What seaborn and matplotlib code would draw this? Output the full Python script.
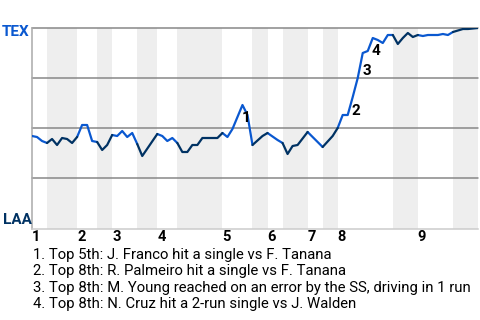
import bisect
import matplotlib
matplotlib.use("Agg")
import matplotlib.pyplot as plt
import numpy as np
import pandas as pd
import seaborn as sns

# ---- data ----
plays = [0, 1, 2, 3, 4, 5, 6, 7, 8, 9, 10, 11, 12, 13, 14, 15, 16, 17, 18, 19,
         20, 21, 22, 25, 26, 27, 28, 29, 30, 31, 32, 33, 34, 37, 38, 39, 40,
         42, 43, 44, 46, 47, 49, 50, 51, 52, 53, 55, 57, 58, 60, 61, 62, 63,
         64, 65, 66, 67, 68, 69, 70, 71, 72, 73, 74, 75, 76, 77, 78, 79, 81,
         82, 83, 84, 86, 87, 89]
tex_wp = [0.46, 0.455, 0.435, 0.425, 0.445, 0.415, 0.45, 0.445, 0.425, 0.455,
          0.515, 0.515, 0.435, 0.43, 0.39, 0.415, 0.465, 0.46, 0.485, 0.455,
          0.475, 0.42, 0.36, 0.47, 0.46, 0.435, 0.45, 0.425, 0.38, 0.38, 0.415,
          0.415, 0.45, 0.45, 0.475, 0.455, 0.495, 0.615, 0.565, 0.415, 0.46,
          0.475, 0.44, 0.425, 0.37, 0.41, 0.415, 0.48, 0.43, 0.405, 0.46, 0.50,
          0.565, 0.565, 0.655, 0.75, 0.875, 0.885, 0.95, 0.94, 0.925, 0.965,
          0.965, 0.92, 0.95, 0.975, 0.955, 0.965, 0.96, 0.965, 0.965, 0.97,
          0.965, 0.98, 0.995, 0.995, 1.0]
half_starts = [0, 3, 9, 13, 16, 21, 25, 29, 38, 44, 47, 50, 55, 58, 61, 72, 77, 84]
game_end = 89
inning_labels = ["1", "2", "3", "4", "5", "6", "7", "8", "9"]
teams = ["TEX", "LAA"]
event_labels = ["1", "2", "3", "4"]
event_label_x = [42.8, 64.7, 66.8, 68.7]
event_label_y = [0.55, 0.585, 0.785, 0.885]
captions = [
    "1. Top 5th: J. Franco hit a single vs F. Tanana",
    "2. Top 8th: R. Palmeiro hit a single vs F. Tanana",
    "3. Top 8th: M. Young reached on an error by the SS, driving in 1 run",
    "4. Top 8th: N. Cruz hit a 2-run single vs J. Walden",
]

TEX_C = "#0a58d0"
LAA_C = "#003263"
BAND_C = "#eeeeee"

sns.set_theme(style="white")
plt.rcParams["font.family"] = ["Roboto", "DejaVu Sans"]

fig = plt.figure(figsize=(4.8, 3.2), dpi=100)
ax = fig.add_axes([32 / 480, 1 - 229 / 320, 446 / 480, 201 / 320])

# bands for bottom halves (LAA batting)
bounds = half_starts + [game_end]
for i in range(1, len(half_starts), 2):
    ax.axvspan(bounds[i], bounds[i + 1], color=BAND_C, lw=0, zorder=0)

# grid lines
for g in [0.25, 0.5, 0.75, 1.0]:
    ax.axhline(g, color="#888888", lw=1.1, zorder=1, clip_on=False)

# build segments colored by batting team
rows = []
grp = -1
prev_team = None
for k in range(len(plays) - 1):
    mid = (plays[k] + plays[k + 1]) / 2
    h = bisect.bisect_right(half_starts, mid) - 1
    team = teams[h % 2]
    if team != prev_team:
        grp += 1
        rows.append((grp, team, plays[k], tex_wp[k]))
        prev_team = team
    rows.append((grp, team, plays[k + 1], tex_wp[k + 1]))
df = pd.DataFrame(rows, columns=["grp", "team", "play", "wp"])

sns.lineplot(data=df, x="play", y="wp", hue="team", units="grp",
             estimator=None, sort=False, palette={"TEX": TEX_C, "LAA": LAA_C},
             linewidth=1.6, legend=False, ax=ax, zorder=3)
for ln in ax.lines:
    ln.set_solid_joinstyle("round")

for lab, x, y in zip(event_labels, event_label_x, event_label_y):
    ax.text(x, y, lab, ha="center", va="center", fontsize=11,
            fontweight="bold", color="black", zorder=4)

ax.set_xlim(0, game_end)
ax.set_ylim(-0.005, 1.0)
ax.set_yticks([])
top_starts = half_starts[0::2]
ax.set_xticks(top_starts)
ax.set_xticklabels(inning_labels, ha="left", fontsize=10.5, fontweight="bold",
                   color="black")
ax.tick_params(axis="x", length=0, pad=1)
ax.set_xlabel("")
ax.set_ylabel("")
for s in ["top", "right"]:
    ax.spines[s].set_visible(False)
ax.spines["left"].set_color("#aaaaaa")
ax.spines["left"].set_linewidth(1.1)
ax.spines["bottom"].set_color("#cccccc")
ax.spines["bottom"].set_linewidth(1.1)

fig.text(2 / 480, 1 - 32 / 320, teams[0], ha="left", va="center",
         fontsize=11, fontweight="bold", color=TEX_C)
fig.text(3 / 480, 1 - 220 / 320, teams[1], ha="left", va="center",
         fontsize=11, fontweight="bold", color=LAA_C)

baselines = [259, 275.5, 292, 308]
for cap, yb in zip(captions, baselines):
    fig.text(33 / 480, 1 - yb / 320, cap, ha="left", va="baseline",
             fontsize=10.7, color="black")

fig.savefig("out.png", dpi=100)
